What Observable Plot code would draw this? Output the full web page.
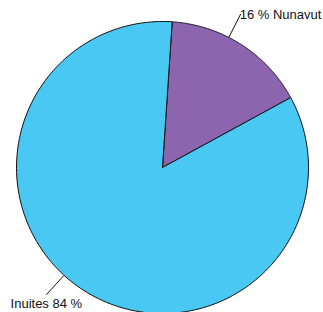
<!DOCTYPE html>
<html><head><meta charset="utf-8">
<script src="https://cdn.jsdelivr.net/npm/d3@7"></script>
<script src="https://cdn.jsdelivr.net/npm/@observablehq/plot@0.6"></script>
<style>body{margin:0;background:#fff;overflow:hidden}</style>
</head><body><div id="chart"></div>
<script>
// Data
const categories = ["Nunavut", "Inuites"];
const values = [16, 84];
const labels = ["16 % Nunavut", "Inuites 84 %"];
const colors = ["#8d65ae", "#48c8f3"];

// Layout constants
const startAngle = 3.8 * Math.PI / 180;
const labelShiftDeg = [-5.6, 9.8];
const leaderOuter = 1.18;

const arcs = d3.pie().sort(null).startAngle(startAngle).endAngle(startAngle + 2 * Math.PI)(values);
const poly = [];
arcs.forEach((a, i) => {
  const cat = categories[i];
  poly.push({cat, x: 0, y: 0});
  const n = 180;
  for (let k = 0; k <= n; k++) {
    const t = a.startAngle + (a.endAngle - a.startAngle) * k / n;
    poly.push({cat, x: Math.sin(t), y: Math.cos(t)});
  }
  poly.push({cat, x: 0, y: 0});
});
const leaders = arcs.map((a, i) => {
  const t = (a.startAngle + a.endAngle) / 2 + labelShiftDeg[i] * Math.PI / 180;
  return {cat: categories[i], label: labels[i],
    x1: Math.sin(t), y1: Math.cos(t), x2: leaderOuter * Math.sin(t), y2: leaderOuter * Math.cos(t)};
});

const chart = Plot.plot({
  width: 323, height: 312,
  margin: 0,
  x: {domain: [-1, 1], range: [16, 308], axis: null},
  y: {domain: [-1, 1], range: [313, 21], axis: null},
  color: {domain: categories, range: colors},
  style: {fontFamily: "Liberation Sans, Arial, sans-serif", background: "white", overflow: "visible"},
  marks: [
    ...categories.map((c, i) => Plot.line(poly.filter(d => d.cat === c), {
      x: "x", y: "y", fill: colors[i], stroke: "#111", strokeWidth: 1, strokeLinejoin: "round"
    })),
    Plot.link(leaders, {x1: "x1", y1: "y1", x2: "x2", y2: "y2", stroke: "#111", strokeWidth: 1}),
    Plot.text(leaders.filter(d => d.cat === "Nunavut"), {
      x: "x2", y: "y2", text: "label", textAnchor: "start", dx: -1, dy: 1, fontSize: 13, fill: "#111"
    }),
    Plot.text(leaders.filter(d => d.cat === "Inuites"), {
      x: "x2", y: "y2", text: "label", textAnchor: "middle", dy: 9, fontSize: 13, fill: "#111"
    })
  ]
});
document.getElementById("chart").appendChild(chart);
</script>
</body></html>
